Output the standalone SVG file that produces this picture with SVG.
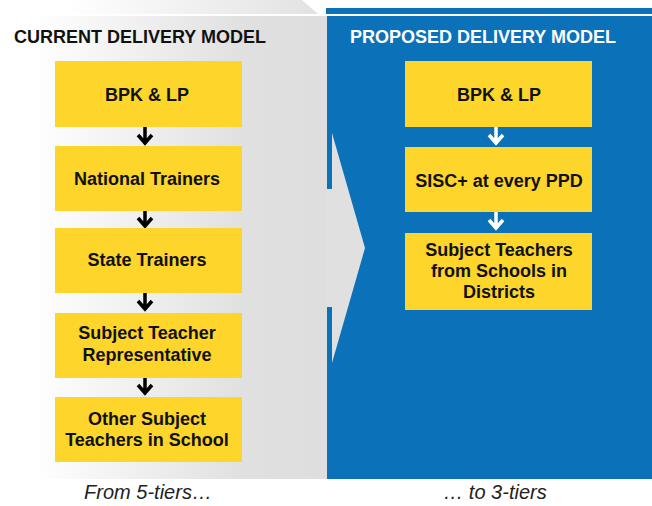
<svg xmlns="http://www.w3.org/2000/svg" width="652" height="506" viewBox="0 0 652 506">
<defs>
<linearGradient id="gr" x1="0" y1="0" x2="327" y2="0" gradientUnits="userSpaceOnUse">
<stop offset="0.1" stop-color="#ffffff"/>
<stop offset="0.75" stop-color="#e0e0e0"/>
<stop offset="1" stop-color="#dedede"/>
</linearGradient>
<linearGradient id="gt" x1="0" y1="0" x2="320" y2="0" gradientUnits="userSpaceOnUse">
<stop offset="0.2" stop-color="#ffffff"/>
<stop offset="1" stop-color="#e2e2e2"/>
</linearGradient>
</defs>
<style>
.box{fill:#fdd52b}
.t{font-family:"Liberation Sans",Arial,sans-serif;font-weight:bold;font-size:18px;fill:#111;text-anchor:middle}
.h{font-family:"Liberation Sans",Arial,sans-serif;font-weight:bold;font-size:18px}
.it{font-family:"Liberation Sans",Arial,sans-serif;font-style:italic;font-size:20px;fill:#222;text-anchor:middle}
.ab{fill:none;stroke:#000;stroke-width:3.5;stroke-linejoin:miter}
.aw{fill:none;stroke:#fff;stroke-width:3.5;stroke-linejoin:miter}
</style>
<g id="background">
<polygon points="0,0 302,0 318,14 0,14" fill="url(#gt)"/>
<rect x="326" y="8" width="326" height="6" fill="#0b72b9"/>
<rect x="327" y="16" width="325" height="463" fill="#0b72b9"/>
<rect x="0" y="16" width="327" height="463" fill="url(#gr)"/>
<polygon points="326,189 332,189 332,133 365,248 332,363 332,307 326,307" fill="#e0e0e0"/>
</g>
<text class="h" x="14" y="43" fill="#111">CURRENT DELIVERY MODEL</text>
<text class="h" x="350" y="43" fill="#ffffff">PROPOSED DELIVERY MODEL</text>
<g id="connectors">
<path class="ab" d="M145,127 V143 M138,135 L145,143 L152,135"/>
<path class="ab" d="M145,211 V226 M138,218 L145,226 L152,218"/>
<path class="ab" d="M145,293 V309 M138,301 L145,309 L152,301"/>
<path class="ab" d="M145,378 V393 M138,385 L145,393 L152,385"/>
<path class="aw" d="M496,127 V143 M489,135 L496,143 L503,135"/>
<path class="aw" d="M496,212 V228 M489,220 L496,228 L503,220"/>
</g>
<g id="c1"><rect class="box" x="55" y="61" width="187" height="66"/><text class="t" x="147" y="101">BPK &amp; LP</text></g>
<g id="c2"><rect class="box" x="55" y="146" width="187" height="65"/><text class="t" x="147" y="185">National Trainers</text></g>
<g id="c3"><rect class="box" x="55" y="228" width="187" height="65"/><text class="t" x="147" y="266">State Trainers</text></g>
<g id="c4"><rect class="box" x="55" y="313" width="187" height="65"/><text class="t" x="147" y="339">Subject Teacher</text><text class="t" x="147" y="361">Representative</text></g>
<g id="c5"><rect class="box" x="55" y="397" width="187" height="65"/><text class="t" x="147" y="425">Other Subject</text><text class="t" x="147" y="446">Teachers in School</text></g>
<g id="p1"><rect class="box" x="405" y="61" width="187" height="66"/><text class="t" x="499" y="101">BPK &amp; LP</text></g>
<g id="p2"><rect class="box" x="405" y="147" width="187" height="65"/><text class="t" x="499" y="187">SISC+ at every PPD</text></g>
<g id="p3"><rect class="box" x="405" y="233" width="187" height="77"/><text class="t" x="499" y="256">Subject Teachers</text><text class="t" x="499" y="277">from Schools in</text><text class="t" x="499" y="298">Districts</text></g>
<text class="it" x="148" y="499">From 5-tiers…</text>
<text class="it" x="495" y="499">… to 3-tiers</text>
</svg>
